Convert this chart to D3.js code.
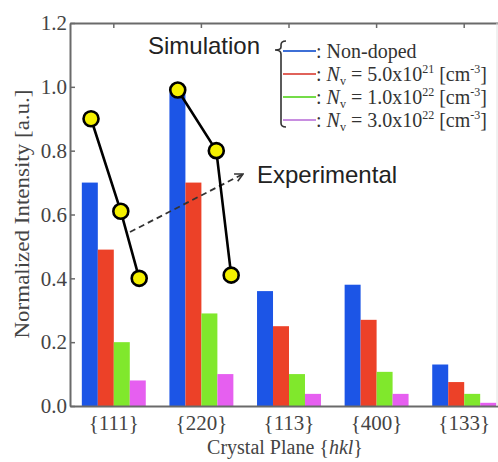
<!DOCTYPE html>
<html>
<head>
<meta charset="utf-8">
<script src="https://cdn.jsdelivr.net/npm/d3@7"></script>
<style>
  body { margin: 0; background: #fff; }
  svg { display: block; }
</style>
</head>
<body>
<svg id="chart"></svg>
<script>
// data
const planes = ["{111}", "{220}", "{113}", "{400}", "{133}"];
const series = ["nondoped", "nv5e21", "nv1e22", "nv3e22"];
const colors = ["#1c55e6", "#ec4128", "#80e82c", "#e65ff0"];
const legendColors = ["#3d6fd6", "#e0625a", "#74dc48", "#c88ee0"];
const nonDoped = [0.70, 0.98, 0.36, 0.38, 0.13];
const nv5e21   = [0.49, 0.70, 0.25, 0.27, 0.075];
const nv1e22   = [0.20, 0.29, 0.10, 0.107, 0.038];
const nv3e22   = [0.08, 0.10, 0.038, 0.038, 0.01];
const seriesValues = [nonDoped, nv5e21, nv1e22, nv3e22];

// experimental points (x in category units, y in a.u.)
const expPosX = [[-0.26, 0.08, 0.29], [0.73, 1.17, 1.34]];
const expValues = [[0.90, 0.61, 0.40], [0.99, 0.80, 0.41]];
const arrowFrom = [0.185, 0.545];
const arrowTo = [1.475, 0.727];

const yTicks = [0, 0.2, 0.4, 0.6, 0.8, 1.0, 1.2];

const W = 498, H = 462;
const margin = { left: 70, top: 23, bottom: 56 };
const plotRight = 508;   // plot runs past the picture edge
const y0 = H - margin.bottom;

const svg = d3.select("#chart").attr("width", W).attr("height", H);

const x = d3.scaleBand().domain(planes).range([margin.left, plotRight]);
const xPos = d3.scaleLinear().domain([-0.5, planes.length - 0.5]).range([margin.left, plotRight]);
const x1 = d3.scaleBand().domain(series).range([0, x.bandwidth()]).paddingOuter(0.74);
const y = d3.scaleLinear().domain([0, 1.2]).range([y0, margin.top]);

const axisColor = "#6a6a6a";
const serif = "'Liberation Serif', 'Times New Roman', serif";
const sans = "'Liberation Sans', Arial, sans-serif";

// bars
const groups = svg.append("g").selectAll("g")
  .data(planes).join("g")
  .attr("transform", d => `translate(${x(d)},0)`);

groups.selectAll("rect")
  .data((p, i) => series.map((s, k) => ({ s, k, v: seriesValues[k][i] })))
  .join("rect")
  .attr("x", d => x1(d.s))
  .attr("width", x1.bandwidth())
  .attr("y", d => y(d.v))
  .attr("height", d => y0 - y(d.v))
  .attr("fill", d => colors[d.k]);

// axes
const yAxis = d3.axisLeft(y).tickValues(yTicks).tickFormat(d3.format(".1f"))
  .tickSizeInner(-5).tickSizeOuter(0).tickPadding(3);
const gy = svg.append("g").attr("transform", `translate(${margin.left},0)`).call(yAxis);

const xAxis = d3.axisBottom(x).tickSize(0).tickPadding(9);
const gx = svg.append("g").attr("transform", `translate(0,${y0})`).call(xAxis);

const topAxis = d3.axisTop(x).tickFormat("").tickSizeInner(-5).tickSizeOuter(0);
const gt = svg.append("g").attr("transform", `translate(0,${margin.top})`).call(topAxis);

[gy, gx, gt].forEach(g => {
  g.select(".domain").attr("stroke", axisColor).attr("stroke-width", 2);
  g.selectAll(".tick line").attr("stroke", axisColor).attr("stroke-width", 1.5);
  g.selectAll("text").attr("fill", "#444").style("font-family", serif).style("font-size", "21px");
});

// faint right border
svg.append("line")
  .attr("x1", W - 1).attr("x2", W - 1).attr("y1", margin.top).attr("y2", y0)
  .attr("stroke", "#e2e2e2").attr("stroke-width", 1);

// axis titles
svg.append("text")
  .attr("transform", `translate(22,214) scale(1,1.15) rotate(-90)`)
  .attr("text-anchor", "middle").attr("dy", "0.35em")
  .style("font-family", serif).style("font-size", "20px").attr("fill", "#444")
  .text("Normalized Intensity [a.u.]");

const xt = svg.append("text")
  .attr("x", 285).attr("y", 454).attr("text-anchor", "middle")
  .style("font-family", serif).style("font-size", "20px").attr("fill", "#444");
xt.append("tspan").text("Crystal Plane {");
xt.append("tspan").style("font-style", "italic").text("hkl");
xt.append("tspan").text("}");

// dashed arrow to "Experimental"
svg.append("defs").append("marker")
  .attr("id", "chev").attr("viewBox", "0 0 10 10")
  .attr("refX", 9).attr("refY", 5)
  .attr("markerWidth", 10).attr("markerHeight", 10)
  .attr("markerUnits", "userSpaceOnUse")
  .attr("orient", "auto")
  .append("path").attr("d", "M1,1 L9,5 L1,9")
  .attr("fill", "none").attr("stroke", "#333").attr("stroke-width", 1.6);

svg.append("line")
  .attr("x1", xPos(arrowFrom[0])).attr("y1", y(arrowFrom[1]))
  .attr("x2", xPos(arrowTo[0])).attr("y2", y(arrowTo[1]))
  .attr("stroke", "#333").attr("stroke-width", 1.8)
  .attr("stroke-dasharray", "6,4")
  .attr("marker-end", "url(#chev)");

// experimental lines and points
const line = d3.line().x(d => xPos(d[0])).y(d => y(d[1]));
expValues.forEach((vals, g) => {
  const pts = vals.map((v, i) => [expPosX[g][i], v]);
  svg.append("path").attr("d", line(pts))
    .attr("fill", "none").attr("stroke", "#000").attr("stroke-width", 2.6);
  svg.append("g").selectAll("circle").data(pts).join("circle")
    .attr("cx", d => xPos(d[0])).attr("cy", d => y(d[1]))
    .attr("r", 7.5).attr("fill", "#f4f000")
    .attr("stroke", "#000").attr("stroke-width", 2.6);
});

// annotations
svg.append("text").attr("x", 148).attr("y", 54)
  .style("font-family", sans).style("font-size", "24px").attr("fill", "#222")
  .text("Simulation");
svg.append("text").attr("x", 257).attr("y", 183)
  .style("font-family", sans).style("font-size", "24px").attr("fill", "#222")
  .text("Experimental");

// brace
svg.append("path")
  .attr("d", "M286,41 Q281,41 281,45 L281,47 Q281,50 275,50 Q281,50 281,54 L281,123 Q281,127 286,127")
  .attr("fill", "none").attr("stroke", "#333").attr("stroke-width", 1.6);

// legend
const legendLabels = [
  { text: null, label: "Non-doped" },
  { base: "5.0x10", exp: "21" },
  { base: "1.0x10", exp: "22" },
  { base: "3.0x10", exp: "22" }
];
const legY = d3.scalePoint().domain(series).range([51, 120]);
const leg = svg.append("g");
series.forEach((s, k) => {
  const ly = legY(s);
  leg.append("line").attr("x1", 283).attr("x2", 316).attr("y1", ly).attr("y2", ly)
    .attr("stroke", legendColors[k]).attr("stroke-width", 2);
  const t = leg.append("text").attr("x", 316).attr("y", ly + 7)
    .style("font-family", serif).style("font-size", "20px").attr("fill", "#333");
  const L = legendLabels[k];
  if (L.label) {
    t.append("tspan").text(": " + L.label);
  } else {
    t.append("tspan").text(": ");
    t.append("tspan").style("font-style", "italic").text("N");
    t.append("tspan").attr("dy", 4).style("font-size", "12px").text("v");
    t.append("tspan").attr("dy", -4).text(" = " + L.base);
    t.append("tspan").attr("dy", -8).style("font-size", "12px").text(L.exp);
    t.append("tspan").attr("dy", 8).text(" [cm");
    t.append("tspan").attr("dy", -8).style("font-size", "12px").text("-3");
    t.append("tspan").attr("dy", 8).text("]");
  }
});
</script>
</body>
</html>
